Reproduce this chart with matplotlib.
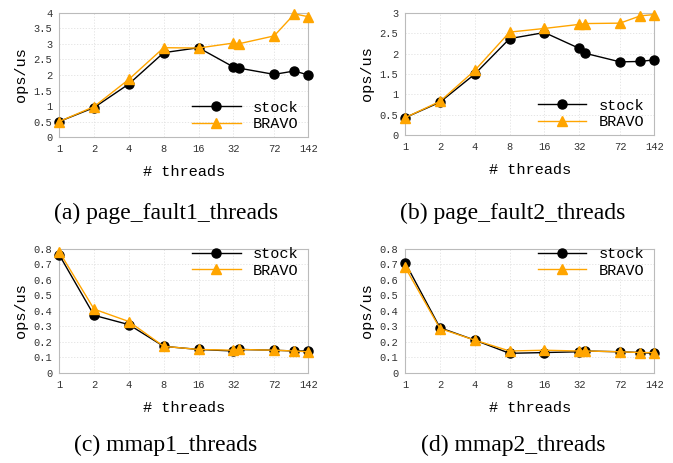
import matplotlib
matplotlib.use("Agg")
import matplotlib.pyplot as plt
from matplotlib.ticker import FixedLocator, NullLocator

# Constant
THREADS = [1, 2, 4, 8, 16, 32, 36, 72, 108, 142]
TICKS = [1, 2, 4, 8, 16, 32, 72, 142]

PF1_STOCK = [0.50, 0.95, 1.71, 2.72, 2.88, 2.26, 2.22, 2.02, 2.13, 2.00]
PF1_BRAVO = [0.50, 0.98, 1.86, 2.88, 2.87, 3.03, 3.01, 3.26, 3.97, 3.88]
PF2_STOCK = [0.43, 0.81, 1.50, 2.37, 2.52, 2.13, 2.01, 1.80, 1.81, 1.85]
PF2_BRAVO = [0.43, 0.83, 1.59, 2.53, 2.62, 2.72, 2.74, 2.75, 2.93, 2.96]
MM1_STOCK = [0.76, 0.37, 0.31, 0.17, 0.15, 0.14, 0.15, 0.145, 0.14, 0.14]
MM1_BRAVO = [0.78, 0.41, 0.33, 0.17, 0.15, 0.145, 0.15, 0.145, 0.14, 0.135]
MM2_STOCK = [0.71, 0.29, 0.21, 0.125, 0.13, 0.135, 0.14, 0.135, 0.13, 0.125]
MM2_BRAVO = [0.68, 0.285, 0.21, 0.14, 0.145, 0.14, 0.14, 0.135, 0.13, 0.13]

CAPTIONS = ["(a) page_fault1_threads", "(b) page_fault2_threads",
            "(c) mmap1_threads", "(d) mmap2_threads"]

MONO = "Liberation Mono"
SERIF = "Liberation Serif"
ORANGE = "#FFA500"

panels = [
    # stock, bravo, yticks, ymax, legend loc, legend anchor, axes rect, caption pos
    (PF1_STOCK, PF1_BRAVO, [0, 0.5, 1, 1.5, 2, 2.5, 3, 3.5, 4], 4.0, "lower right", (0.985, 0.0),
     [0.088, 0.704, 0.370, 0.268], (166, 213)),
    (PF2_STOCK, PF2_BRAVO, [0, 0.5, 1, 1.5, 2, 2.5, 3], 3.0, "lower right", (0.985, 0.0),
     [0.602, 0.708, 0.370, 0.264], (513, 213)),
    (MM1_STOCK, MM1_BRAVO, [0, 0.1, 0.2, 0.3, 0.4, 0.5, 0.6, 0.7, 0.8], 0.8, "upper right", (0.985, 1.06),
     [0.088, 0.195, 0.370, 0.268], (166, 445)),
    (MM2_STOCK, MM2_BRAVO, [0, 0.1, 0.2, 0.3, 0.4, 0.5, 0.6, 0.7, 0.8], 0.8, "upper right", (0.985, 1.06),
     [0.602, 0.195, 0.370, 0.268], (513, 445)),
]

W, H = 673, 463
fig = plt.figure(figsize=(W / 100, H / 100), dpi=100)

for (stock, bravo, yticks, ymax, loc, anchor, rect, cpos), caption in zip(panels, CAPTIONS):
    ax = fig.add_axes(rect)
    ax.plot(THREADS, stock, color="black", marker="o", markersize=6.5, linewidth=1.0,
            label="stock", clip_on=False, zorder=3)
    ax.plot(THREADS, bravo, color=ORANGE, marker="^", markersize=7, linewidth=1.0,
            label="BRAVO", clip_on=False, zorder=4)
    ax.set_xscale("log", base=2)
    ax.set_xlim(1, 142)
    ax.set_ylim(0, ymax)
    ax.xaxis.set_major_locator(FixedLocator(TICKS))
    ax.xaxis.set_minor_locator(NullLocator())
    ax.set_xticklabels([str(t) for t in TICKS])
    ax.set_yticks(yticks)
    ax.set_yticklabels([f"{v:g}" for v in yticks])
    for lab in ax.get_xticklabels() + ax.get_yticklabels():
        lab.set_family(MONO)
        lab.set_fontsize(7.5)
    ax.tick_params(length=0, pad=5, colors="#333333")
    ax.grid(True, color="#e0e0e0", linestyle=(0, (1.5, 2)), linewidth=0.6)
    for spine in ax.spines.values():
        spine.set_color("#bbbbbb")
        spine.set_linewidth(0.8)
    ax.set_xlabel("# threads", family=MONO, fontsize=11, labelpad=8)
    ax.set_ylabel("ops/us", family=MONO, fontsize=11, labelpad=4)
    ax.legend(loc=loc, bbox_to_anchor=anchor, frameon=False,
              prop={"family": MONO, "size": 11}, handlelength=3.2,
              borderaxespad=0.0, labelspacing=0.15)
    # caption below each panel
    fig.text(cpos[0] / W, 1 - cpos[1] / H, caption, family=SERIF, fontsize=17,
             ha="center", va="center")

plt.savefig("out.png", dpi=100)
